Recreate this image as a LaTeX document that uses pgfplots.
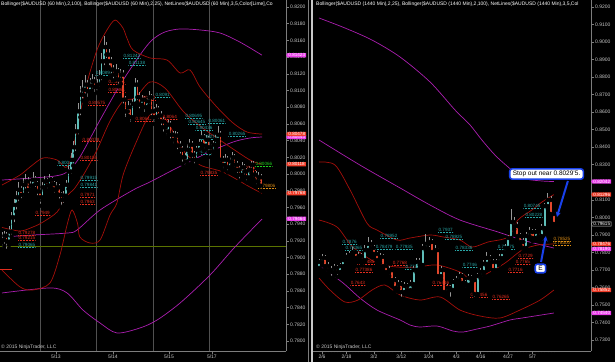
\documentclass[border=0pt]{standalone}
\usepackage{fontspec}
\setmainfont{Liberation Sans}
\usepackage{pgfplots}
\pgfplotsset{compat=1.18}
\usepackage{pgfplotstable}
\usetikzlibrary{shapes.symbols,arrows.meta}

\definecolor{labelc}{RGB}{200,200,200}
\definecolor{axisc}{RGB}{125,125,125}
\definecolor{gridc}{RGB}{80,80,80}
\definecolor{bbmag}{RGB}{170,30,175}
\definecolor{bbred}{RGB}{165,15,10}
\definecolor{upc}{RGB}{95,190,185}
\definecolor{dnc}{RGB}{228,72,45}
\definecolor{wickc}{RGB}{150,150,150}
\definecolor{cyanT}{RGB}{40,165,165}
\definecolor{redT}{RGB}{225,45,30}
\definecolor{greenT}{RGB}{30,210,30}
\definecolor{orangeT}{RGB}{220,140,20}
\definecolor{oliveL}{RGB}{90,115,0}
\definecolor{boxmag}{RGB}{235,60,235}
\definecolor{boxred}{RGB}{240,60,40}
\definecolor{annblue}{RGB}{25,65,235}

% 60-minute AUDUSD candles: index, open, high, low, close
\pgfplotstableread{
i o h l c
0 0.7918 0.7930 0.7910 0.7921
1 0.7921 0.7932 0.7914 0.7926
2 0.7926 0.7930 0.7908 0.7919
3 0.7919 0.7938 0.7915 0.7931
4 0.7931 0.7955 0.7925 0.7948
5 0.7948 0.7970 0.7940 0.7963
6 0.7963 0.7980 0.7955 0.7972
7 0.7972 0.7990 0.7965 0.7981
8 0.7981 0.7986 0.7968 0.7975
9 0.7975 0.7995 0.7970 0.7987
10 0.7987 0.8000 0.7980 0.7991
11 0.7991 0.7996 0.7975 0.7981
12 0.7981 0.7992 0.7976 0.7986
13 0.7986 0.8002 0.7982 0.7993
14 0.7993 0.7998 0.7982 0.7988
15 0.7988 0.7992 0.7972 0.7979
16 0.7979 0.7984 0.7962 0.7972
17 0.7972 0.7990 0.7968 0.7984
18 0.7984 0.7998 0.7980 0.7991
19 0.7991 0.7995 0.7980 0.7986
20 0.7986 0.8000 0.7982 0.7993
21 0.7993 0.7997 0.7983 0.7988
22 0.7988 0.7992 0.7975 0.7981
23 0.7981 0.7990 0.7977 0.7984
24 0.7984 0.7988 0.7968 0.7975
25 0.7975 0.7979 0.7960 0.7969
26 0.7969 0.7980 0.7963 0.7974
27 0.7974 0.7993 0.7970 0.7987
28 0.7987 0.8010 0.7982 0.8003
29 0.8003 0.8025 0.7998 0.8017
30 0.8017 0.8040 0.8010 0.8032
31 0.8032 0.8060 0.8025 0.8051
32 0.8051 0.8085 0.8045 0.8075
33 0.8075 0.8105 0.8068 0.8095
34 0.8095 0.8112 0.8088 0.8101
35 0.8101 0.8118 0.8094 0.8107
36 0.8107 0.8112 0.8090 0.8099
37 0.8099 0.8115 0.8095 0.8106
38 0.8106 0.8120 0.8100 0.8111
39 0.8111 0.8116 0.8096 0.8104
40 0.8104 0.8114 0.8098 0.8107
41 0.8107 0.8125 0.8102 0.8116
42 0.8116 0.8145 0.8110 0.8135
43 0.8135 0.8165 0.8128 0.8152
44 0.8152 0.8158 0.8136 0.8143
45 0.8143 0.8150 0.8128 0.8135
46 0.8135 0.8140 0.8118 0.8125
47 0.8125 0.8130 0.8112 0.8119
48 0.8119 0.8132 0.8114 0.8123
49 0.8123 0.8127 0.8105 0.8113
50 0.8113 0.8126 0.8108 0.8119
51 0.8119 0.8124 0.8082 0.8089
52 0.8089 0.8094 0.8066 0.8075
53 0.8075 0.8088 0.8070 0.8080
54 0.8080 0.8085 0.8060 0.8068
55 0.8068 0.8090 0.8064 0.8084
56 0.8084 0.8115 0.8080 0.8107
57 0.8107 0.8112 0.8086 0.8092
58 0.8092 0.8098 0.8076 0.8083
59 0.8083 0.8095 0.8078 0.8089
60 0.8089 0.8093 0.8072 0.8080
61 0.8080 0.8094 0.8076 0.8087
62 0.8087 0.8100 0.8082 0.8092
63 0.8092 0.8096 0.8068 0.8075
64 0.8075 0.8080 0.8060 0.8068
65 0.8068 0.8084 0.8064 0.8077
66 0.8077 0.8082 0.8064 0.8070
67 0.8070 0.8075 0.8056 0.8063
68 0.8063 0.8068 0.8048 0.8056
69 0.8056 0.8060 0.8044 0.8051
70 0.8051 0.8066 0.8047 0.8059
71 0.8059 0.8063 0.8040 0.8047
72 0.8047 0.8052 0.8034 0.8041
73 0.8041 0.8052 0.8037 0.8046
74 0.8046 0.8050 0.8027 0.8034
75 0.8034 0.8039 0.8022 0.8029
76 0.8029 0.8033 0.8012 0.8020
77 0.8020 0.8025 0.8008 0.8015
78 0.8015 0.8036 0.8011 0.8029
79 0.8029 0.8042 0.8025 0.8035
80 0.8035 0.8040 0.8017 0.8023
81 0.8023 0.8027 0.8010 0.8017
82 0.8017 0.8034 0.8013 0.8029
83 0.8029 0.8042 0.8024 0.8036
84 0.8036 0.8052 0.8031 0.8044
85 0.8044 0.8048 0.8028 0.8034
86 0.8034 0.8047 0.8030 0.8041
87 0.8041 0.8045 0.8026 0.8032
88 0.8032 0.8036 0.8020 0.8027
89 0.8027 0.8040 0.8023 0.8035
90 0.8035 0.8047 0.8031 0.8041
91 0.8041 0.8058 0.8037 0.8047
92 0.8047 0.8051 0.8012 0.8017
93 0.8017 0.8022 0.8004 0.8011
94 0.8011 0.8024 0.8007 0.8017
95 0.8017 0.8021 0.8002 0.8008
96 0.8008 0.8020 0.8004 0.8015
97 0.8015 0.8026 0.8011 0.8020
98 0.8020 0.8024 0.8006 0.8011
99 0.8011 0.8015 0.7999 0.8005
100 0.8005 0.8009 0.7992 0.7999
101 0.7999 0.8014 0.7995 0.8008
102 0.8008 0.8012 0.7997 0.8003
103 0.8003 0.8007 0.7990 0.7996
104 0.7996 0.8010 0.7992 0.8005
105 0.8005 0.8016 0.8001 0.8011
106 0.8011 0.8015 0.7994 0.7999
107 0.7999 0.8003 0.7985 0.7991
108 0.7991 0.8002 0.7987 0.7996
109 0.7996 0.8000 0.7980 0.7986
}\hourly

% 1440-minute (daily) AUDUSD candles
\pgfplotstableread{
i o h l c
0 0.7711 0.7760 0.7695 0.7745
1 0.7745 0.7790 0.7725 0.7768
2 0.7768 0.7785 0.7705 0.7722
3 0.7722 0.7745 0.7680 0.7699
4 0.7699 0.7720 0.7655 0.7688
5 0.7688 0.7735 0.7670 0.7711
6 0.7711 0.7730 0.7660 0.7688
7 0.7688 0.7740 0.7675 0.7722
8 0.7722 0.7770 0.7710 0.7756
9 0.7756 0.7795 0.7740 0.7774
10 0.7774 0.7810 0.7760 0.7785
11 0.7785 0.7830 0.7770 0.7802
12 0.7802 0.7815 0.7750 0.7768
13 0.7768 0.7800 0.7745 0.7779
14 0.7779 0.7795 0.7735 0.7756
15 0.7756 0.7840 0.7745 0.7813
16 0.7813 0.7885 0.7800 0.7848
17 0.7848 0.7870 0.7805 0.7825
18 0.7825 0.7840 0.7775 0.7791
19 0.7791 0.7805 0.7740 0.7756
20 0.7756 0.7795 0.7740 0.7774
21 0.7774 0.7790 0.7705 0.7722
22 0.7722 0.7735 0.7670 0.7688
23 0.7688 0.7720 0.7665 0.7699
24 0.7699 0.7710 0.7625 0.7642
25 0.7642 0.7660 0.7580 0.7597
26 0.7597 0.7640 0.7575 0.7619
27 0.7619 0.7635 0.7535 0.7574
28 0.7574 0.7630 0.7560 0.7608
29 0.7608 0.7625 0.7565 0.7585
30 0.7585 0.7640 0.7570 0.7619
31 0.7619 0.7720 0.7605 0.7699
32 0.7699 0.7765 0.7685 0.7745
33 0.7745 0.7770 0.7710 0.7728
34 0.7728 0.7845 0.7715 0.7825
35 0.7825 0.7905 0.7810 0.7848
36 0.7848 0.7885 0.7820 0.7859
37 0.7859 0.7875 0.7785 0.7802
38 0.7802 0.7840 0.7790 0.7813
39 0.7813 0.7825 0.7650 0.7665
40 0.7665 0.7720 0.7645 0.7699
41 0.7699 0.7710 0.7560 0.7574
42 0.7574 0.7620 0.7555 0.7597
43 0.7597 0.7615 0.7535 0.7585
44 0.7585 0.7650 0.7570 0.7631
45 0.7631 0.7665 0.7615 0.7642
46 0.7642 0.7690 0.7625 0.7665
47 0.7665 0.7680 0.7605 0.7625
48 0.7625 0.7645 0.7590 0.7614
49 0.7614 0.7675 0.7600 0.7654
50 0.7654 0.7670 0.7625 0.7642
51 0.7642 0.7655 0.7535 0.7562
52 0.7562 0.7685 0.7550 0.7665
53 0.7665 0.7710 0.7650 0.7688
54 0.7688 0.7755 0.7675 0.7734
55 0.7734 0.7800 0.7720 0.7768
56 0.7768 0.7785 0.7730 0.7745
57 0.7745 0.7760 0.7680 0.7699
58 0.7699 0.7760 0.7685 0.7745
59 0.7745 0.7790 0.7730 0.7768
60 0.7768 0.7820 0.7755 0.7802
61 0.7802 0.7845 0.7790 0.7825
62 0.7825 0.7900 0.7810 0.7882
63 0.7882 0.8050 0.7865 0.7973
64 0.7973 0.8000 0.7930 0.7950
65 0.7950 0.7975 0.7875 0.7893
66 0.7893 0.7910 0.7840 0.7859
67 0.7859 0.7880 0.7805 0.7825
68 0.7825 0.7915 0.7815 0.7893
69 0.7893 0.7945 0.7880 0.7916
70 0.7916 0.7935 0.7865 0.7882
71 0.7882 0.7935 0.7870 0.7916
72 0.7916 0.7930 0.7875 0.7893
73 0.7893 0.7960 0.7880 0.7939
74 0.7939 0.8080 0.7925 0.8064
75 0.8064 0.8140 0.8050 0.8099
76 0.8099 0.8120 0.8005 0.8019
77 0.8019 0.8030 0.7950 0.7962
}\daily

\pgfplotsset{
  panel/.style={
    scale only axis, anchor=south west, clip=false,
    axis x line*=bottom, axis y line*=right,
    axis line style={draw=axisc, line width=0.6pt},
    tick align=outside, major tick length=2.5pt, minor tick length=1.4pt,
    tick style={draw=axisc, line width=0.5pt},
    ticklabel style={font=\fontsize{5}{6}\selectfont, text=labelc},
    xticklabel style={inner sep=1pt},
    yticklabel style={inner sep=1.5pt},
    scaled y ticks=false,
    yticklabel={\pgfmathprintnumber[fixed,fixed zerofill,precision=4,assume math mode=true]{\tick}},
  },
}
\tikzset{
  nl/.style={font=\fontsize{4.6}{5}\selectfont, inner sep=0.5pt, anchor=west, text=#1,
    path picture={\draw[#1, densely dotted, line width=0.5pt] ([yshift=0.3pt]path picture bounding box.south west) -- ([yshift=0.3pt]path picture bounding box.south east);}},
  pbox/.style={signal, signal to=west, signal pointer angle=120, inner sep=0.5pt, inner xsep=1pt,
    font=\fontsize{4.6}{5}\selectfont, text=white, anchor=west, fill=#1},
}

\begin{document}
\begin{tikzpicture}
\useasboundingbox (0pt,0pt) rectangle (615pt,362pt);
\fill[black] (0pt,0pt) rectangle (615pt,362pt);

%================ LEFT PANEL (60 Min) ================
\begin{axis}[panel, at={(0pt,11pt)}, width=286pt, height=351pt,
  xmin=-0.84, xmax=119.6, ymin=0.7788, ymax=0.82084,
  ytick={0.780,0.782,0.784,0.786,0.788,0.790,0.792,0.794,0.796,0.798,0.800,0.802,0.804,0.806,0.808,0.810,0.812,0.814,0.816,0.818,0.820},
  xtick={22.7,46.7,70.3,88.4}, xticklabels={5/13,5/14,5/15,5/17},
  extra x ticks={16.3,39.9,63.6,87.2}, extra x tick labels={},
  extra x tick style={grid=major, major grid style={draw=gridc, line width=0.6pt}, major tick length=0pt},
]
\addplot[oliveL, line width=0.6pt] coordinates {(-0.84,0.7913) (119.6,0.7913)};
\addplot[redT, line width=1.1pt] coordinates {(-0.84,0.7886) (4.2,0.7886)};
% Bollinger 100 (magenta)
\addplot[bbmag, line width=0.7pt, smooth] coordinates {(0,0.79928) (13,0.79952) (22.3,0.79976) (27.4,0.80024) (32.8,0.80204) (41.3,0.80647) (49.7,0.81066) (58.1,0.81425) (63.2,0.81605) (68.6,0.81701) (75,0.81737) (83.4,0.81725) (91.8,0.81689) (100.2,0.8158) (109.5,0.81423)};
\addplot[bbmag, line width=0.7pt, smooth] coordinates {(0,0.79245) (13,0.79269) (27.4,0.79293) (31.6,0.79329) (41.3,0.79569) (55.2,0.79808) (62.3,0.79904) (72,0.80048) (86.3,0.80251) (97.3,0.80383) (104.4,0.80431) (109.5,0.80443)};
\addplot[bbmag, line width=0.7pt, smooth] coordinates {(0,0.78575) (20.2,0.78635) (27.4,0.78575) (34.1,0.78371) (41.3,0.78215) (48.4,0.78096) (58.1,0.78156) (65.3,0.78251) (75,0.78455) (87.6,0.7879) (98.1,0.79126) (109.5,0.79461)};
% Bollinger 25 (red)
\addplot[bbred, line width=0.7pt, smooth] coordinates {(0,0.79868) (7.6,0.79988) (11.8,0.80084) (17.3,0.80192) (23.2,0.80168) (27.4,0.80084) (30.7,0.80407) (35,0.81006) (40,0.81485) (44.2,0.81725) (47.6,0.81844) (50.9,0.8175) (52.6,0.81629) (55.2,0.81485) (62.3,0.8139) (69.5,0.81365) (75,0.8121) (79.2,0.81246) (83.4,0.81042) (90.5,0.80802) (97.3,0.80611) (103.2,0.80503) (109.5,0.80478)};
\addplot[bbred, line width=0.7pt, smooth] coordinates {(0,0.7936) (7.6,0.79317) (13,0.79365) (17.3,0.79425) (23.2,0.79545) (27.4,0.79737) (30.7,0.79832) (35,0.80024) (40,0.80287) (45.5,0.80635) (51,0.80874) (56,0.8091) (62.3,0.81102) (68.6,0.8103) (76.2,0.80755) (83.4,0.80575) (93,0.80383) (104.4,0.80168) (109.5,0.80118)};
\addplot[bbred, line width=0.7pt, smooth] coordinates {(0,0.7885) (7.6,0.78647) (13,0.78611) (20.2,0.78695) (24.4,0.7903) (27.4,0.79389) (29.5,0.79569) (31.8,0.7941) (32.8,0.79245) (37,0.79174) (41.3,0.7921) (45.5,0.79509) (48.4,0.79653) (51,0.79988) (56,0.80347) (62.3,0.80706) (68.6,0.8067) (76.2,0.80287) (83.4,0.80108) (93,0.80024) (104.4,0.79844) (109.5,0.79768)};
% candles: wicks, rising bodies, falling bodies (zero-length bars are invisible)
\addplot[only marks, mark=none, error bars/.cd, y dir=plus, y explicit, error mark=none, error bar style={draw=wickc, line width=0.5pt}] table[x=i, y=l, y error expr=\thisrow{h}-\thisrow{l}] {\hourly};
\addplot[only marks, mark=none, error bars/.cd, y dir=plus, y explicit, error mark=none, error bar style={draw=upc, line width=1.5pt, line cap=butt}] table[x=i, y=o, y error expr={max(\thisrow{c}-\thisrow{o},0)}] {\hourly};
\addplot[only marks, mark=none, error bars/.cd, y dir=plus, y explicit, error mark=none, error bar style={draw=dnc, line width=1.5pt, line cap=butt}] table[x=i, y=c, y error expr={max(\thisrow{o}-\thisrow{c},0)}] {\hourly};
% NetLines labels
\node[nl=cyanT] at (axis cs:50.9,0.81413) {0.81242};
\node[nl=cyanT] at (axis cs:53.1,0.8133) {0.81138};
\node[nl=cyanT] at (axis cs:39.2,0.8121) {0.80897};
\node[nl=redT] at (axis cs:44.6,0.81102) {0.81061};
\node[nl=redT] at (axis cs:44.6,0.81006) {0.80861};
\node[nl=redT] at (axis cs:36.2,0.8085) {0.80575};
\node[nl=redT] at (axis cs:57.3,0.8091) {0.80690};
\node[nl=redT] at (axis cs:56,0.80659) {0.80642};
\node[nl=redT] at (axis cs:33.7,0.8041) {0.80078};
\node[nl=redT] at (axis cs:32.8,0.80192) {0.80155};
\node[nl=cyanT] at (axis cs:23.2,0.80132) {0.80029};
\node[nl=cyanT] at (axis cs:32.8,0.79952) {0.79915};
\node[nl=cyanT] at (axis cs:32.8,0.79868) {0.79841};
\node[nl=redT] at (axis cs:32.8,0.79748) {0.7971};
\node[nl=redT] at (axis cs:32.8,0.79665) {0.7963};
\node[nl=redT] at (axis cs:13.9,0.79533) {0.7949};
\node[nl=redT] at (axis cs:6.7,0.79293) {0.79278};
\node[nl=redT] at (axis cs:6.7,0.79234) {0.79215};
\node[nl=cyanT] at (axis cs:6.7,0.7915) {0.79065};
\node[nl=cyanT] at (axis cs:64.4,0.80946) {0.8091};
\node[nl=redT] at (axis cs:67.4,0.80683) {0.8064};
\node[nl=cyanT] at (axis cs:77,0.80695) {0.80695};
\node[nl=cyanT] at (axis cs:78.3,0.80623) {0.80645};
\node[nl=cyanT] at (axis cs:86.7,0.80635) {0.80061};
\node[nl=cyanT] at (axis cs:81.3,0.80551) {0.80436};
\node[nl=cyanT] at (axis cs:83.4,0.80443) {0.80275};
\node[nl=cyanT] at (axis cs:95.2,0.8048) {0.80265};
\node[nl=cyanT] at (axis cs:81.3,0.80263) {0.80055};
\node[nl=redT] at (axis cs:83.4,0.80012) {0.79835};
\node[nl=redT] at (axis cs:99.4,0.80072) {0.80040};
\node[nl=greenT] at (axis cs:106.5,0.8012) {0.80066};
\node[nl=orangeT] at (axis cs:107.8,0.79856) {0.79806};
% price markers
\node[pbox=boxmag] at (axis cs:119.6,0.81423) {0.81423};
\node[pbox=boxmag] at (axis cs:119.6,0.80443) {0.80443};
\node[pbox=boxred] at (axis cs:119.6,0.80478) {0.80478};
\node[pbox=boxred] at (axis cs:119.6,0.80118) {0.80118};
\node[pbox=boxred] at (axis cs:119.6,0.79768) {0.79768};
\node[pbox=boxmag] at (axis cs:119.6,0.79464) {0.79464};
\end{axis}

%================ RIGHT PANEL (1440 Min) ================
\begin{axis}[panel, at={(313pt,11pt)}, width=278pt, height=351pt,
  xmin=-1.967, xmax=89.18, ymin=0.72373, ymax=0.92396,
  ytick={0.73,0.74,0.75,0.76,0.77,0.78,0.79,0.80,0.81,0.82,0.83,0.84,0.85,0.86,0.87,0.88,0.89,0.90,0.91,0.92},
  xtick={1,9,18,27,36,45,53,62,70}, xticklabels={2/6,2/18,3/2,3/12,3/24,4/3,4/16,4/27,5/7},
  minor xtick={0,...,77},
]
% Bollinger 100 (magenta)
\addplot[bbmag, line width=0.7pt, smooth] coordinates {(0,0.9137) (8.5,0.9080) (17.4,0.9011) (26.6,0.8914) (36.4,0.8772) (44.6,0.8612) (49.5,0.8527) (53.4,0.8441) (57.7,0.8355) (62,0.8287) (66.6,0.8224) (72.5,0.8208) (77,0.8204)};
\addplot[bbmag, line width=0.7pt, smooth] coordinates {(0,0.8441) (13.4,0.82983) (26.6,0.81671) (36.4,0.80701) (46.2,0.79845) (58.7,0.79161) (66.6,0.78705) (77,0.78248)};
\addplot[bbmag, line width=0.7pt, smooth] coordinates {(0,0.77278) (7.9,0.76252) (13.4,0.75396) (19,0.74711) (26.6,0.74141) (29.8,0.73856) (33.1,0.73742) (38.7,0.73799) (43.9,0.73513) (47.2,0.73456) (51.8,0.73627) (56.1,0.73799) (62.6,0.74141) (66.6,0.74255) (77,0.7454)};
% Bollinger 25 (red)
\addplot[bbred, line width=0.7pt, smooth] coordinates {(0,0.83154) (5.25,0.82983) (10.2,0.81557) (15.7,0.79674) (19,0.79275) (25.6,0.78705) (29.8,0.78819) (36.4,0.7899) (40.7,0.78876) (46.2,0.78705) (50.2,0.78305) (55.4,0.7859) (62,0.78876) (65.2,0.79845) (69.8,0.80416) (73.1,0.80872) (77,0.81296)};
\addplot[bbred, line width=0.7pt, smooth] coordinates {(0,0.79845) (5.9,0.79446) (11.1,0.78305) (19,0.77392) (25.6,0.77164) (32.1,0.77164) (38.7,0.77278) (46.2,0.76879) (50.2,0.76423) (55.4,0.76822) (61,0.77392) (66.6,0.78134) (71.8,0.78419) (77,0.78476)};
\addplot[bbred, line width=0.7pt, smooth] coordinates {(0,0.76537) (3.6,0.75852) (8.5,0.75168) (12.8,0.75282) (17.4,0.75852) (21.6,0.76137) (26.6,0.75567) (33.1,0.75282) (39.7,0.75453) (46.2,0.74711) (52.8,0.74369) (59.3,0.74255) (65.9,0.74711) (72.5,0.75282) (77,0.75852)};
% candles
\addplot[only marks, mark=none, error bars/.cd, y dir=plus, y explicit, error mark=none, error bar style={draw=wickc, line width=0.6pt}] table[x=i, y=l, y error expr=\thisrow{h}-\thisrow{l}] {\daily};
\addplot[only marks, mark=none, error bars/.cd, y dir=plus, y explicit, error mark=none, error bar style={draw=upc, line width=2.1pt, line cap=butt}] table[x=i, y=o, y error expr={max(\thisrow{c}-\thisrow{o},0)}] {\daily};
\addplot[only marks, mark=none, error bars/.cd, y dir=plus, y explicit, error mark=none, error bar style={draw=dnc, line width=2.1pt, line cap=butt}] table[x=i, y=c, y error expr={max(\thisrow{o}-\thisrow{c},0)}] {\daily};
% NetLines labels
\node[nl=cyanT] at (axis cs:7.5,0.7859) {0.7876};
\node[nl=cyanT] at (axis cs:8.5,0.78248) {0.78365};
\node[nl=cyanT] at (axis cs:20,0.78933) {0.78952};
\node[nl=cyanT] at (axis cs:18.4,0.78305) {0.78479};
\node[nl=cyanT] at (axis cs:25,0.78305) {0.77935};
\node[nl=redT] at (axis cs:24,0.77392) {0.7768};
\node[nl=redT] at (axis cs:12.5,0.7745) {0.77485};
\node[nl=redT] at (axis cs:11.8,0.76993) {0.77386};
\node[nl=redT] at (axis cs:10.2,0.76252) {0.7643};
\node[nl=cyanT] at (axis cs:28.2,0.77164) {0.7737};
\node[nl=cyanT] at (axis cs:39,0.79275) {0.7937};
\node[nl=cyanT] at (axis cs:41.3,0.78876) {0.78925};
\node[nl=redT] at (axis cs:37,0.76252) {0.76416};
\node[nl=cyanT] at (axis cs:66.9,0.80644) {0.80745};
\node[nl=cyanT] at (axis cs:67.5,0.8013) {0.80228};
\node[nl=cyanT] at (axis cs:58.4,0.78305) {0.78875};
\node[nl=cyanT] at (axis cs:44.6,0.78248) {0.78336};
\node[nl=cyanT] at (axis cs:46.9,0.77278) {0.7746};
\node[nl=redT] at (axis cs:64.3,0.7745) {0.7765};
\node[nl=redT] at (axis cs:65.2,0.77792) {0.7729};
\node[nl=redT] at (axis cs:61.9,0.76993) {0.7716};
\node[nl=redT] at (axis cs:49.5,0.75567) {0.76456};
\node[nl=redT] at (axis cs:56.7,0.75453) {0.76265};
\node[nl=orangeT] at (axis cs:76.7,0.78762) {0.78525};
\node[nl=orangeT] at (axis cs:76.7,0.78533) {0.78300};
% annotations
\draw[annblue, line width=2pt, -{Stealth[length=5pt,width=5pt]}] (axis cs:81.6,0.8207) -- (axis cs:78.0,0.8002);
\node[draw=annblue, line width=1.6pt, fill=white, rounded corners=2.5pt, inner xsep=3pt, inner ysep=2.2pt, font=\fontsize{6.5}{7}\selectfont, text=black] at (axis cs:74.6,0.8247) {Stop out near 0.8029'5.};
\draw[annblue, line width=2pt, -{Stealth[length=5pt,width=5pt]}] (axis cs:72.8,0.7745) -- (axis cs:74.4,0.7893);
\node[draw=annblue, line width=1.6pt, fill=white, rounded corners=2pt, inner xsep=3pt, inner ysep=2pt, font=\fontsize{6.5}{7}\selectfont, text=black] at (axis cs:72.6,0.7708) {E};
% price markers
\node[pbox=boxmag] at (axis cs:89.18,0.82042) {0.82042};
\node[pbox=boxred] at (axis cs:89.18,0.81296) {0.81296};
\node[signal, signal to=west, signal pointer angle=120, inner sep=0.5pt, inner xsep=1pt, font=\fontsize{4.6}{5}\selectfont, text=white, anchor=west, fill=black, draw=labelc, line width=0.4pt] at (axis cs:89.18,0.79615) {0.79615};
\node[pbox=boxred] at (axis cs:89.18,0.78476) {0.78476};
\node[pbox=boxmag] at (axis cs:89.18,0.78190) {0.78190};
\node[pbox=boxred] at (axis cs:89.18,0.75852) {0.75852};
\node[pbox=boxmag] at (axis cs:89.18,0.74540) {0.74540};
\end{axis}

% panel separator
\fill[axisc] (307.6pt,0pt) rectangle (308.6pt,362pt);
\fill[labelc] (311.3pt,0pt) rectangle (312.8pt,362pt);

% headers
\node[anchor=west, inner sep=0pt, text=white, font=\fontsize{5}{6}\selectfont] at (1pt,357.5pt) {Bollinger(\$AUDUSD (60 Min),2,100), Bollinger(\$AUDUSD (60 Min),2,25), NetLines(\$AUDUSD (60 Min),3,5,Color[Lime],Co};
\node[anchor=west, inner sep=0pt, text=white, font=\fontsize{5}{6}\selectfont] at (316pt,357.5pt) {Bollinger(\$AUDUSD (1440 Min),2,25), Bollinger(\$AUDUSD (1440 Min),2,100), NetLines(\$AUDUSD (1440 Min),3,5,Col};
% copyright
\node[anchor=west, inner sep=0pt, text=labelc, font=\fontsize{5}{6}\selectfont] at (1pt,14.5pt) {© 2015 NinjaTrader, LLC};
\node[anchor=west, inner sep=0pt, text=labelc, font=\fontsize{5}{6}\selectfont] at (316pt,14.5pt) {© 2015 NinjaTrader, LLC};
\end{tikzpicture}
\end{document}
